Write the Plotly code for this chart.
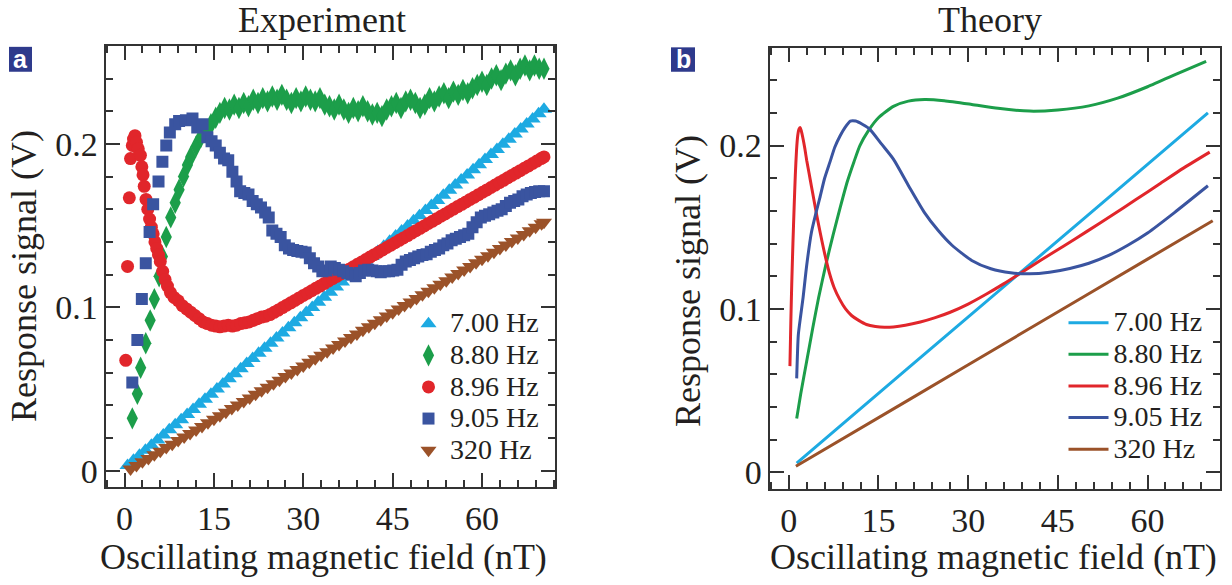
import plotly.graph_objects as go

# ---------------- data ----------------
FREQS = ["7.00 Hz", "8.80 Hz", "8.96 Hz", "9.05 Hz", "320 Hz"]
COLORS = ["#1DAAE2", "#1C9E4A", "#E1262B", "#3A54A0", "#9B5229"]

# Experiment (panel a)
EXP_CYAN_X = [0.5, 1.5, 2.5, 3.5, 4.5, 5.5, 6.5, 7.5, 8.5, 9.5, 10.5, 11.5, 12.5, 13.5, 14.5,
              15.5, 16.5, 17.5, 18.5, 19.5, 20.5, 21.5, 22.5, 23.5, 24.5, 25.5, 26.5, 27.5, 28.5,
              29.5, 30.5, 31.5, 32.5, 33.5, 34.5, 35.5, 36.5, 37.5, 38.5, 39.5, 40.5, 41.5, 42.5,
              43.5, 44.5, 45.5, 46.5, 47.5, 48.5, 49.5, 50.5, 51.5, 52.5, 53.5, 54.5, 55.5, 56.5,
              57.5, 58.5, 59.5, 60.5, 61.5, 62.5, 63.5, 64.5, 65.5, 66.5, 67.5, 68.5, 69.5, 70.4]
EXP_CYAN_Y = [0.0032, 0.0063, 0.0094, 0.0125, 0.0156, 0.0188, 0.0219, 0.0250, 0.0281, 0.0312,
              0.0344, 0.0375, 0.0406, 0.0437, 0.0468, 0.0500, 0.0531, 0.0562, 0.0593, 0.0624,
              0.0656, 0.0687, 0.0718, 0.0749, 0.0780, 0.0812, 0.0843, 0.0874, 0.0905, 0.0936,
              0.0968, 0.0999, 0.1030, 0.1061, 0.1092, 0.1124, 0.1155, 0.1186, 0.1217, 0.1248,
              0.1280, 0.1311, 0.1342, 0.1373, 0.1404, 0.1436, 0.1467, 0.1498, 0.1529, 0.1560,
              0.1592, 0.1623, 0.1654, 0.1685, 0.1716, 0.1748, 0.1779, 0.1810, 0.1841, 0.1872,
              0.1904, 0.1935, 0.1966, 0.1997, 0.2028, 0.2060, 0.2091, 0.2122, 0.2153, 0.2184,
              0.2212]

EXP_GREEN_X = [1.3, 2.15, 2.7, 3.56, 4.3, 5.0, 5.8, 6.35, 7.0, 7.75, 8.5, 9.15, 9.9, 10.55, 11.1,
               12.0, 12.8, 13.6, 14.5, 15.3, 16.0, 16.8, 17.6, 18.4, 19.2, 20.0, 20.8, 21.6, 22.4,
               23.2, 24.0, 24.8, 25.6, 26.4, 27.2, 28.0, 28.8, 29.6, 30.4, 31.2, 32.0, 32.8, 33.6,
               34.4, 35.2, 36.0, 36.8, 37.6, 38.4, 39.2, 40.0, 40.8, 41.6, 42.4, 43.2, 44.0, 44.8,
               45.6, 46.4, 47.2, 48.0, 48.8, 49.6, 50.4, 51.2, 52.0, 52.8, 53.6, 54.4, 55.2, 56.0,
               56.8, 57.6, 58.4, 59.2, 60.0, 60.8, 61.6, 62.4, 63.2, 64.0, 64.8, 65.6, 66.4, 67.2,
               68.0, 68.8, 69.6, 70.4]
EXP_GREEN_Y = [0.032, 0.047, 0.063, 0.078, 0.092, 0.105, 0.119, 0.131, 0.143, 0.155, 0.164, 0.172,
               0.180, 0.187, 0.192, 0.1985, 0.204, 0.208, 0.212, 0.216, 0.219, 0.222, 0.221, 0.224,
               0.222, 0.225, 0.223, 0.227, 0.225, 0.228, 0.226, 0.229, 0.227, 0.230, 0.227, 0.225,
               0.228, 0.226, 0.229, 0.227, 0.226, 0.228, 0.224, 0.223, 0.221, 0.224, 0.221, 0.219,
               0.222, 0.220, 0.223, 0.220, 0.218, 0.219, 0.217, 0.221, 0.223, 0.225, 0.222, 0.226,
               0.227, 0.225, 0.222, 0.224, 0.228, 0.226, 0.229, 0.231, 0.228, 0.232, 0.230, 0.233,
               0.231, 0.234, 0.236, 0.238, 0.236, 0.240, 0.242, 0.239, 0.243, 0.245, 0.242, 0.246,
               0.248, 0.245, 0.248, 0.246, 0.246]

EXP_RED_X = [0.2, 0.5, 0.8, 1.0, 1.3, 1.5, 1.75, 2.0, 2.3, 2.66, 2.9, 3.1, 3.3, 3.6, 3.9, 4.2,
             4.5, 4.8, 5.1, 5.4, 5.7, 6.0, 6.4, 6.8, 7.2, 7.7, 8.3, 9.0, 9.7, 10.4, 11.1, 11.8,
             12.5, 13.2, 13.9, 14.6, 15.3, 16.0, 16.7, 17.4, 18.1, 18.8, 19.5, 20.2, 20.9, 21.6,
             22.3, 23.0, 23.7, 24.4, 25.1, 25.8, 26.5, 27.2, 27.9, 28.6, 29.3, 30.0, 30.7, 31.4,
             32.1, 32.8, 33.5, 34.2, 34.9, 35.6, 36.3, 37.0, 37.7, 38.4, 39.1, 39.8, 40.5, 41.2,
             41.9, 42.6, 43.3, 44.0, 44.7, 45.4, 46.1, 46.8, 47.5, 48.2, 48.9, 49.6, 50.3, 51.0,
             51.7, 52.4, 53.1, 53.8, 54.5, 55.2, 55.9, 56.6, 57.3, 58.0, 58.7, 59.4, 60.1, 60.8,
             61.5, 62.2, 62.9, 63.6, 64.3, 65.0, 65.7, 66.4, 67.1, 67.8, 68.5, 69.2, 69.9, 70.4]
EXP_RED_Y = [0.0675, 0.125, 0.167, 0.191, 0.199, 0.203, 0.205, 0.201, 0.197, 0.193, 0.186, 0.181,
             0.174, 0.166, 0.160, 0.154, 0.149, 0.145, 0.140, 0.136, 0.132, 0.128, 0.122, 0.117,
             0.113, 0.109, 0.106, 0.104, 0.101, 0.099, 0.097, 0.095, 0.093, 0.091, 0.090, 0.089,
             0.0885, 0.088, 0.0885, 0.089, 0.0885, 0.089, 0.090, 0.0905, 0.091, 0.092, 0.093,
             0.094, 0.0945, 0.0955, 0.0969, 0.0983, 0.0998, 0.1013, 0.1027, 0.1042, 0.1057,
             0.1072, 0.1086, 0.1101, 0.1116, 0.1130, 0.1145, 0.1160, 0.1175, 0.1189, 0.1204,
             0.1219, 0.1233, 0.1248, 0.1263, 0.1277, 0.1292, 0.1307, 0.1322, 0.1336, 0.1351,
             0.1366, 0.1380, 0.1395, 0.1410, 0.1424, 0.1439, 0.1454, 0.1469, 0.1483, 0.1498,
             0.1513, 0.1527, 0.1542, 0.1557, 0.1571, 0.1586, 0.1601, 0.1616, 0.1630, 0.1645,
             0.1660, 0.1674, 0.1689, 0.1704, 0.1718, 0.1733, 0.1748, 0.1763, 0.1777, 0.1792,
             0.1807, 0.1821, 0.1836, 0.1851, 0.1865, 0.1880, 0.1895, 0.1910, 0.1920]

EXP_BLUE_X = [1.3, 2.15, 2.9, 3.56, 4.2, 4.8, 5.7, 6.35, 7.0, 7.6, 8.5, 9.15, 10.3, 11.4, 12.2,
              13.1, 13.9, 14.6, 15.3, 16.0, 16.7, 17.4, 18.1, 18.8, 19.4, 20.1, 20.8, 21.5, 22.2,
              22.9, 23.6, 24.2, 24.8, 25.5, 26.2, 26.9, 27.6, 28.3, 29.0, 29.7, 30.4, 31.1, 31.8,
              32.5, 33.2, 33.9, 34.6, 35.3, 36.0, 36.7, 37.4, 38.1, 38.8, 39.5, 40.2, 40.9, 41.6,
              42.3, 43.0, 43.7, 44.4, 45.1, 45.8, 46.5, 47.2, 47.9, 48.6, 49.3, 50.0, 50.7, 51.4,
              52.1, 52.8, 53.5, 54.2, 54.9, 55.6, 56.3, 57.0, 57.7, 58.4, 59.1, 59.8, 60.5, 61.2,
              61.9, 62.6, 63.3, 64.0, 64.7, 65.4, 66.1, 66.8, 67.5, 68.2, 68.9, 69.6, 70.4]
EXP_BLUE_Y = [0.054, 0.080, 0.105, 0.127, 0.146, 0.163, 0.177, 0.189, 0.199, 0.207, 0.212, 0.214,
              0.2145, 0.2155, 0.210, 0.212, 0.204, 0.2016, 0.199, 0.1945, 0.191, 0.190, 0.183,
              0.177, 0.171, 0.170, 0.169, 0.165, 0.163, 0.161, 0.158, 0.155, 0.147, 0.145, 0.143,
              0.138, 0.136, 0.135, 0.1345, 0.134, 0.1335, 0.130, 0.127, 0.125, 0.122, 0.1225,
              0.125, 0.124, 0.123, 0.122, 0.121, 0.120, 0.119, 0.121, 0.1225, 0.123, 0.1225,
              0.122, 0.1215, 0.122, 0.122, 0.1225, 0.123, 0.126, 0.128, 0.129, 0.130, 0.131,
              0.132, 0.1325, 0.134, 0.135, 0.136, 0.138, 0.139, 0.141, 0.142, 0.143, 0.144,
              0.145, 0.149, 0.152, 0.155, 0.156, 0.157, 0.158, 0.159, 0.160, 0.162, 0.164,
              0.165, 0.166, 0.168, 0.169, 0.170, 0.1705, 0.171, 0.171]

EXP_BROWN_X = [1.0, 2.0, 3.0, 4.0, 5.0, 6.0, 7.0, 8.0, 9.0, 10.0, 11.0, 12.0, 13.0, 14.0, 15.0,
               16.0, 17.0, 18.0, 19.0, 20.0, 21.0, 22.0, 23.0, 24.0, 25.0, 26.0, 27.0, 28.0, 29.0,
               30.0, 31.0, 32.0, 33.0, 34.0, 35.0, 36.0, 37.0, 38.0, 39.0, 40.0, 41.0, 42.0, 43.0,
               44.0, 45.0, 46.0, 47.0, 48.0, 49.0, 50.0, 51.0, 52.0, 53.0, 54.0, 55.0, 56.0, 57.0,
               58.0, 59.0, 60.0, 61.0, 62.0, 63.0, 64.0, 65.0, 66.0, 67.0, 68.0, 69.0, 70.0, 70.4]
EXP_BROWN_Y = [0.0010, 0.0032, 0.0054, 0.0075, 0.0097, 0.0119, 0.0141, 0.0162, 0.0184, 0.0206,
               0.0228, 0.0249, 0.0271, 0.0293, 0.0315, 0.0336, 0.0358, 0.0380, 0.0402, 0.0423,
               0.0445, 0.0467, 0.0489, 0.0510, 0.0532, 0.0554, 0.0576, 0.0598, 0.0619, 0.0641,
               0.0663, 0.0685, 0.0706, 0.0728, 0.0750, 0.0772, 0.0793, 0.0815, 0.0837, 0.0859,
               0.0880, 0.0902, 0.0924, 0.0946, 0.0967, 0.0989, 0.1011, 0.1033, 0.1054, 0.1076,
               0.1098, 0.1120, 0.1141, 0.1163, 0.1185, 0.1207, 0.1228, 0.1250, 0.1272, 0.1294,
               0.1316, 0.1337, 0.1359, 0.1381, 0.1403, 0.1424, 0.1446, 0.1468, 0.1490, 0.1511,
               0.1520]

# Theory (panel b)
TH_CYAN_X = [1.33, 20.0, 40.0, 60.0, 70.1]
TH_CYAN_Y = [0.0057, 0.0639, 0.1262, 0.1885, 0.2200]

TH_GREEN_X = [1.33, 2.0, 3.0, 4.0, 5.0, 6.2, 7.4, 8.6, 9.8, 10.9, 11.9, 13.3, 15.0, 17.5, 20.0,
              22.7, 26.0, 30.6, 35.0, 40.3, 45.0, 50.2, 55.0, 60.0, 65.0, 69.8]
TH_GREEN_Y = [0.033, 0.048, 0.068, 0.088, 0.107, 0.127, 0.145, 0.162, 0.178, 0.190, 0.200, 0.209,
              0.217, 0.224, 0.2272, 0.2282, 0.2275, 0.2252, 0.2228, 0.2211, 0.2218, 0.2243,
              0.2290, 0.2360, 0.2440, 0.2516]

TH_RED_X = [0.2, 0.35, 0.5, 0.7, 0.9, 1.1, 1.3, 1.5, 1.7, 1.9, 2.1, 2.4, 2.7, 3.0, 3.4, 3.8, 4.2,
            4.7, 5.3, 6.0, 6.8, 7.6, 8.5, 9.5, 10.5, 11.7, 13.0, 14.5, 16.0, 17.5, 19.5, 22.0,
            24.5, 27.0, 30.0, 33.0, 36.0, 39.0, 42.0, 46.0, 50.0, 54.0, 58.0, 62.0, 66.0, 70.4]
TH_RED_Y = [0.065, 0.092, 0.115, 0.140, 0.162, 0.182, 0.197, 0.206, 0.210, 0.211, 0.209, 0.204,
            0.198, 0.191, 0.183, 0.175, 0.167, 0.157, 0.146, 0.134, 0.122, 0.113, 0.106, 0.100,
            0.096, 0.093, 0.0905, 0.0893, 0.0888, 0.0890, 0.0900, 0.0920, 0.0947, 0.0980,
            0.1030, 0.1090, 0.1155, 0.1225, 0.1295, 0.1385, 0.1478, 0.1572, 0.1668, 0.1765,
            0.1862, 0.1960]

TH_BLUE_X = [1.33, 1.6, 2.0, 2.4, 3.0, 3.8, 4.5, 5.2, 6.0, 6.9, 7.7, 8.6, 9.4, 10.3, 11.2, 12.3,
             13.6, 15.5, 17.5, 20.1, 22.7, 25.0, 27.3, 30.6, 33.8, 37.1, 40.3, 43.6, 47.0, 50.2,
             53.5, 56.7, 60.0, 64.5, 70.1]
TH_BLUE_Y = [0.0575, 0.084, 0.096, 0.107, 0.1266, 0.147, 0.158, 0.168, 0.180, 0.190, 0.199,
             0.206, 0.211, 0.215, 0.2150, 0.2130, 0.2098, 0.2010, 0.1917, 0.175, 0.159, 0.148,
             0.139, 0.1297, 0.1246, 0.1221, 0.1215, 0.1225, 0.1248, 0.1280, 0.1328, 0.1390,
             0.1465, 0.1590, 0.1754]

TH_BROWN_X = [1.2, 20.0, 40.0, 60.0, 70.9]
TH_BROWN_Y = [0.0037, 0.0442, 0.0874, 0.1305, 0.1540]

X_TICKS = [0, 15, 30, 45, 60]
Y_TICKS = [0, 0.1, 0.2]
Y_TICK_TEXT = ["0", "0.1", "0.2"]

# ---------------- figure ----------------
W, H = 1232, 585
SERIF = "Liberation Serif"
INK = "#231F20"
AX = "#333333"


def fx(p):
    return p / W


def fy(p):
    return 1 - p / H


fig = go.Figure()

exp_sets = [
    (EXP_CYAN_X, EXP_CYAN_Y, "triangle-up", 14),
    (EXP_GREEN_X, EXP_GREEN_Y, "diamond-tall", 16),
    (EXP_RED_X, EXP_RED_Y, "circle", 13),
    (EXP_BLUE_X, EXP_BLUE_Y, "square", 12),
    (EXP_BROWN_X, EXP_BROWN_Y, "triangle-down", 14),
]
for (xs, ys, sym, sz), name, col in zip(exp_sets, FREQS, COLORS):
    fig.add_trace(go.Scatter(
        x=xs, y=ys, mode="markers", name='<span style="font-size:28px">%s</span>' % name,
        marker=dict(symbol=sym, size=sz, color=col, line=dict(width=0)),
        xaxis="x", yaxis="y", legend="legend"))

th_sets = [
    (TH_CYAN_X, TH_CYAN_Y),
    (TH_GREEN_X, TH_GREEN_Y),
    (TH_RED_X, TH_RED_Y),
    (TH_BLUE_X, TH_BLUE_Y),
    (TH_BROWN_X, TH_BROWN_Y),
]
for (xs, ys), name, col in zip(th_sets, FREQS, COLORS):
    fig.add_trace(go.Scatter(
        x=xs, y=ys, mode="lines", name='<span style="font-size:28px">%s</span>' % name,
        line=dict(color=col, width=3, shape="spline", smoothing=0.6),
        xaxis="x2", yaxis="y2", legend="legend2"))


def xaxis(domain, rng, anchor):
    return dict(domain=domain, range=rng, anchor=anchor, tickvals=X_TICKS,
                showline=True, linewidth=2, linecolor=AX, mirror="ticks",
                ticks="inside", ticklen=14, tickwidth=2, tickcolor=AX,
                showgrid=False, zeroline=False, ticklabelstandoff=0,
                tickfont=dict(family=SERIF, size=34, color=INK),
                minor=dict(ticks="inside", ticklen=7, tickwidth=2, tickcolor=AX,
                           dtick=3, tick0=0, showgrid=False))


def yaxis(domain, anchor):
    return dict(domain=domain, range=[-0.0102, 0.26], anchor=anchor,
                tickvals=Y_TICKS, ticktext=Y_TICK_TEXT,
                showline=True, linewidth=2, linecolor=AX, mirror="ticks",
                ticks="inside", ticklen=14, tickwidth=2, tickcolor=AX,
                showgrid=False, zeroline=False, ticklabelstandoff=-1,
                tickfont=dict(family=SERIF, size=34, color=INK),
                minor=dict(ticks="inside", ticklen=7, tickwidth=2, tickcolor=AX,
                           dtick=0.02, tick0=0, showgrid=False))


legend_common = dict(font=dict(family=SERIF, size=22, color=INK), bgcolor="rgba(0,0,0,0)",
                     borderwidth=0, xanchor="left", yanchor="top", tracegroupgap=0)

TITLE_FONT = dict(family=SERIF, size=36, color=INK)
annotations = [
    dict(text="Experiment", x=fx(322), y=fy(20), xref="paper", yref="paper",
         showarrow=False, font=TITLE_FONT, xanchor="center", yanchor="middle"),
    dict(text="Theory", x=fx(990), y=fy(20), xref="paper", yref="paper",
         showarrow=False, font=TITLE_FONT, xanchor="center", yanchor="middle"),
    dict(text="Oscillating magnetic field (nT)", x=fx(323), y=fy(559), xref="paper",
         yref="paper", showarrow=False, font=TITLE_FONT, xanchor="center", yanchor="middle"),
    dict(text="Oscillating magnetic field (nT)", x=fx(993), y=fy(559), xref="paper",
         yref="paper", showarrow=False, font=TITLE_FONT, xanchor="center", yanchor="middle"),
    dict(text="Response signal (V)", x=fx(24), y=fy(277), xref="paper", yref="paper",
         showarrow=False, textangle=-90, font=TITLE_FONT, xanchor="center", yanchor="middle"),
    dict(text="Response signal (V)", x=fx(688), y=fy(282), xref="paper", yref="paper",
         showarrow=False, textangle=-90, font=TITLE_FONT, xanchor="center", yanchor="middle"),
    dict(text="<b>a</b>", x=fx(20.5), y=fy(59), xref="paper", yref="paper",
         showarrow=False, font=dict(family="Liberation Sans", size=25, color="white"),
         xanchor="center", yanchor="middle"),
    dict(text="<b>b</b>", x=fx(683), y=fy(59), xref="paper", yref="paper",
         showarrow=False, font=dict(family="Liberation Sans", size=25, color="white"),
         xanchor="center", yanchor="middle"),
]

shapes = [
    dict(type="rect", xref="paper", yref="paper", x0=fx(9), x1=fx(32), y0=fy(47), y1=fy(72),
         fillcolor="#2E3A8C", line=dict(width=0), layer="below"),
    dict(type="rect", xref="paper", yref="paper", x0=fx(671), x1=fx(695), y0=fy(47.5),
         y1=fy(72), fillcolor="#2E3A8C", line=dict(width=0), layer="below"),
]

fig.update_layout(
    width=W, height=H, margin=dict(l=0, r=0, t=0, b=0),
    paper_bgcolor="white", plot_bgcolor="white", showlegend=True,
    xaxis=xaxis([fx(105.5), fx(555.3)], [-3.2, 72.3], "y"),
    yaxis=yaxis([1 - 489 / H, 1 - 46 / H], "x"),
    xaxis2=xaxis([fx(769.6), fx(1219.6)], [-3.2, 72.05], "y2"),
    yaxis2=yaxis([1 - 490.7 / H, 1 - 47.7 / H], "x2"),
    legend=dict(x=fx(407), y=fy(304), itemwidth=33, **legend_common),
    legend2=dict(x=fx(1063.5), y=fy(303), itemwidth=40, **legend_common),
    annotations=annotations, shapes=shapes,
)

fig.write_html("out.html", config={"displayModeBar": False},
               post_script="document.body.style.margin='0px';")
